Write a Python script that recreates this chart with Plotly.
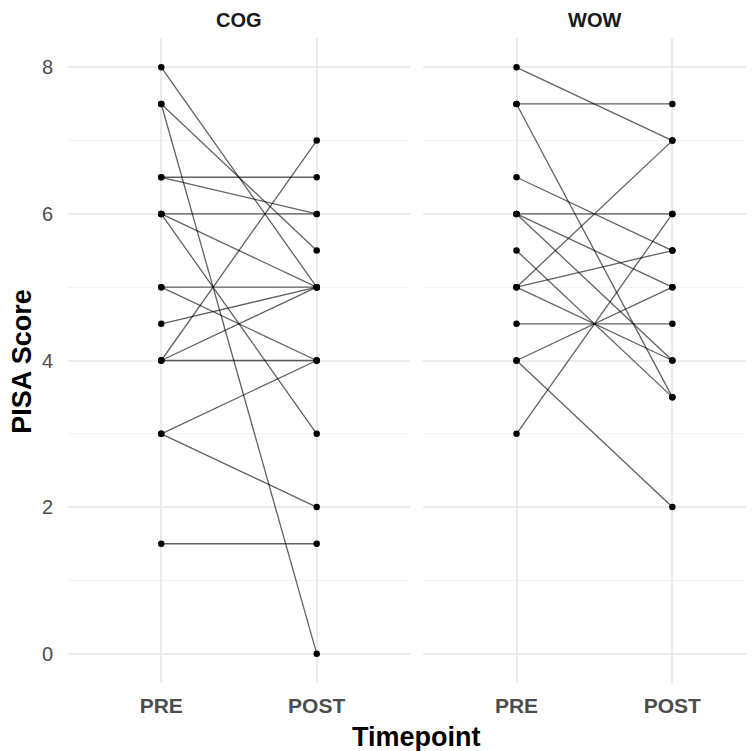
import plotly.graph_objects as go

# ---- data ----
timepoints = ["PRE", "POST"]
groups = ["COG", "WOW"]

cog_pre = [8, 7.5, 7.5, 6.5, 6.5, 6, 6, 6, 5, 5, 4.5, 4, 4, 4, 3, 3, 1.5]
cog_post = [5, 5.5, 0, 6.5, 6, 6, 5, 3, 5, 4, 5, 4, 5, 7, 4, 2, 1.5]

wow_pre = [8, 7.5, 7.5, 6.5, 6, 6, 6, 5.5, 5, 5, 5, 4.5, 4, 4, 3]
wow_post = [7, 7.5, 3.5, 5.5, 6, 5, 4, 3.5, 5.5, 7, 4, 4.5, 5, 2, 6]

y_ticks = [0, 2, 4, 6, 8]

FONT = "Liberation Sans, Arial, sans-serif"
LINE_COLOR = "rgba(0,0,0,0.62)"

fig = go.Figure()

panels = [("x", "y", cog_pre, cog_post), ("x2", "y2", wow_pre, wow_post)]
for xa, ya, pre, post in panels:
    lx, ly = [], []
    for a, b in zip(pre, post):
        lx += [timepoints[0], timepoints[1], None]
        ly += [a, b, None]
    fig.add_trace(go.Scatter(x=lx, y=ly, mode="lines", xaxis=xa, yaxis=ya,
                             line=dict(color=LINE_COLOR, width=1.3),
                             hoverinfo="skip", showlegend=False))
    px = [timepoints[0]] * len(pre) + [timepoints[1]] * len(post)
    py = list(pre) + list(post)
    fig.add_trace(go.Scatter(x=px, y=py, mode="markers", xaxis=xa, yaxis=ya,
                             marker=dict(color="black", size=6.5),
                             showlegend=False))

xcommon = dict(type="category", categoryorder="array", categoryarray=timepoints,
               showgrid=True, gridcolor="#ebebeb", gridwidth=1.6,
               zeroline=False, showline=False, ticks="",
               tickfont=dict(family=FONT, size=21, color="#4d4d4d", weight="bold"),
               ticklabelstandoff=8)
ycommon = dict(range=[-0.4, 8.4], tickvals=y_ticks,
               showgrid=True, gridcolor="#ebebeb", gridwidth=1.6,
               minor=dict(tickvals=[1, 3, 5, 7], showgrid=True, gridcolor="#f3f3f3", gridwidth=1),
               zeroline=False, showline=False, ticks="")

fig.update_layout(
    width=746, height=743,
    margin=dict(l=60, r=0, t=30, b=68),
    paper_bgcolor="white", plot_bgcolor="white",
    font=dict(family=FONT),
    xaxis=dict(domain=[0, 0.4985], range=[-0.6, 1.6], anchor="y", **xcommon),
    xaxis2=dict(domain=[0.5175, 1], range=[-0.6, 1.524], anchor="y2", **xcommon),
    yaxis=dict(anchor="x", tickfont=dict(family=FONT, size=20, color="#4d4d4d"),
               ticklabelstandoff=14, **ycommon),
    yaxis2=dict(anchor="x2", matches="y", showticklabels=False, **ycommon),
    annotations=[
        dict(text="<b>COG</b>", x=0.249, y=1.028, xref="paper", yref="paper",
             showarrow=False, font=dict(family=FONT, size=20, color="#1a1a1a"),
             xanchor="center", yanchor="middle"),
        dict(text="<b>WOW</b>", x=0.768, y=1.028, xref="paper", yref="paper",
             showarrow=False, font=dict(family=FONT, size=20, color="#1a1a1a"),
             xanchor="center", yanchor="middle"),
        dict(text="<b>PISA Score</b>", x=-0.067, y=0.498, xref="paper", yref="paper",
             showarrow=False, textangle=-90, font=dict(family=FONT, size=27, color="black"),
             xanchor="center", yanchor="middle"),
        dict(text="<b>Timepoint</b>", x=0.5087, y=-0.0837, xref="paper", yref="paper",
             showarrow=False, font=dict(family=FONT, size=27, color="black"),
             xanchor="center", yanchor="middle"),
    ],
)

fig.write_html("out.html")
